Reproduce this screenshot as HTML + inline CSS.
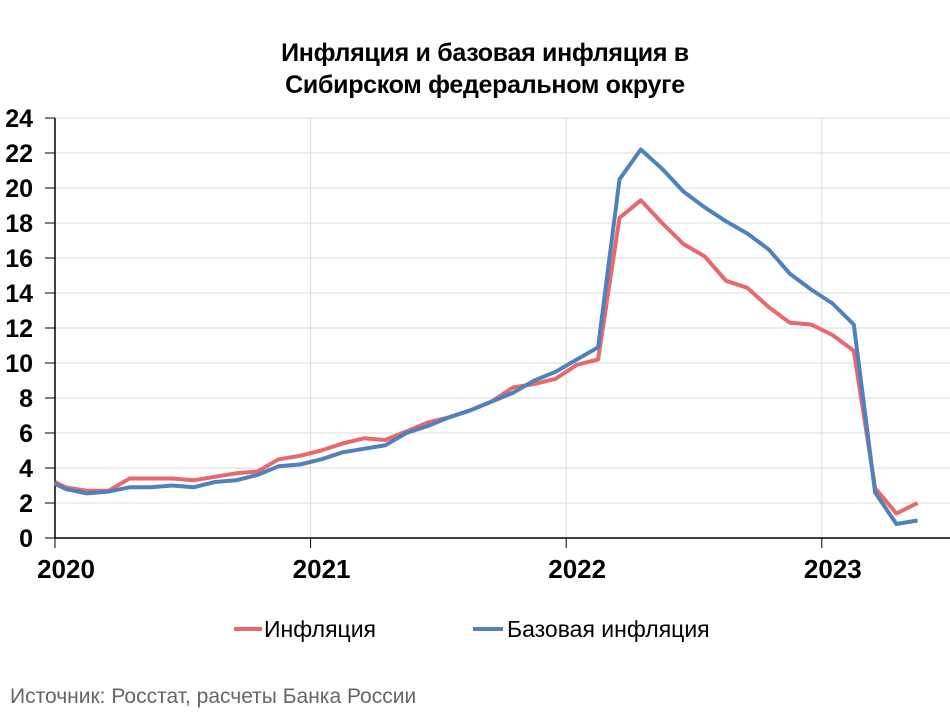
<!DOCTYPE html>
<html><head><meta charset="utf-8"><style>
body{margin:0;background:#fff;width:950px;height:712px;overflow:hidden;font-family:"Liberation Sans",sans-serif}
</style></head><body>
<svg id="chart" width="950" height="712" xmlns="http://www.w3.org/2000/svg" font-family="Liberation Sans, sans-serif">
<text x="485" y="61" text-anchor="middle" font-size="25" font-weight="bold" fill="#000" letter-spacing="-0.3">Инфляция и базовая инфляция в</text>
<text x="485" y="93" text-anchor="middle" font-size="25" font-weight="bold" fill="#000" letter-spacing="-0.3">Сибирском федеральном округе</text>
<g id="grid"></g><g id="axes"></g><g id="series"></g>
<g>
<line x1="234" y1="629" x2="262" y2="629" stroke="#e8686c" stroke-width="4"/>
<text x="264" y="637" font-size="23" fill="#000">Инфляция</text>
<line x1="473" y1="629" x2="503" y2="629" stroke="#4f81bd" stroke-width="4"/>
<text x="507" y="637" font-size="23" fill="#000">Базовая инфляция</text>
</g>
<text x="10" y="703" font-size="21" fill="#666">Источник: Росстат, расчеты Банка России</text>
</svg>
<script>
const yTicks=[0,2,4,6,8,10,12,14,16,18,20,22,24];
const years=["2020","2021","2022","2023"];
const startInfl=3.2, startCore=3.1;
const inflation=[2.9,2.7,2.7,3.4,3.4,3.4,3.3,3.5,3.7,3.8,4.5,4.7,
5.0,5.4,5.7,5.6,6.1,6.6,6.9,7.3,7.8,8.6,8.8,9.1,
9.9,10.2,18.3,19.3,18.0,16.8,16.1,14.7,14.3,13.2,12.3,12.2,
11.6,10.7,2.85,1.4,2.0];
const core=[2.8,2.55,2.65,2.9,2.9,3.0,2.9,3.2,3.3,3.6,4.1,4.2,
4.5,4.9,5.1,5.3,6.0,6.4,6.9,7.3,7.8,8.3,9.0,9.5,
10.2,10.9,20.5,22.2,21.1,19.8,18.9,18.1,17.4,16.5,15.1,14.2,
13.4,12.2,2.6,0.8,1.0];
const X0=55,X1=950,MW=21.3,Y0=538,YS=17.5;
const xM=t=>X0+t*MW, yV=v=>Y0-v*YS;
const NS="http://www.w3.org/2000/svg";
function mk(tag,attrs,parent){const e=document.createElementNS(NS,tag);for(const k in attrs)e.setAttribute(k,attrs[k]);parent.appendChild(e);return e;}
const grid=document.getElementById('grid'),axes=document.getElementById('axes'),ser=document.getElementById('series');
yTicks.forEach(v=>{
 const l=mk('line',{x1:X0,x2:X1,y1:yV(v),y2:yV(v),stroke:'#d9d9d9','stroke-width':1},grid);
 
 
 const tk=mk('line',{x1:X0-10,x2:X0,y1:yV(v),y2:yV(v),stroke:'#000','stroke-width':1},axes);
 
 
 const t=mk('text',{x:33,y:yV(v)+9,'text-anchor':'end','font-size':25,'font-weight':'bold',fill:'#000'},axes);
 t.textContent=v;
 
 
});
years.forEach((yr,i)=>{
 const x=xM(i*12);
 if(i>0){const g=mk('line',{x1:x,x2:x,y1:yV(24),y2:Y0,stroke:'#d9d9d9','stroke-width':1},grid);
 
 }
 const tk=mk('line',{x1:x,x2:x,y1:Y0,y2:Y0+10,stroke:'#000','stroke-width':1},axes);
 
 
 const t=mk('text',{x:x+11,y:578,'text-anchor':'middle','font-size':26,'font-weight':'bold',fill:'#000'},axes);
 t.textContent=yr;
 
 
});
const ya=mk('line',{x1:X0,x2:X0,y1:yV(24),y2:Y0,stroke:'#000','stroke-width':1.5},axes);


const xa=mk('line',{x1:X0,x2:X1,y1:Y0,y2:Y0,stroke:'#000','stroke-width':1.5},axes);


function path(start,arr){let d='M'+xM(0)+','+yV(start);arr.forEach((v,i)=>{d+=' L'+xM(i+0.5).toFixed(1)+','+yV(v).toFixed(1);});return d;}
const pr=mk('path',{d:path(startInfl,inflation),fill:'none',stroke:'#e8686c','stroke-width':4,'stroke-linejoin':'round'},ser);


const pb=mk('path',{d:path(startCore,core),fill:'none',stroke:'#4f81bd','stroke-width':4,'stroke-linejoin':'round'},ser);


</script>
</body></html>
